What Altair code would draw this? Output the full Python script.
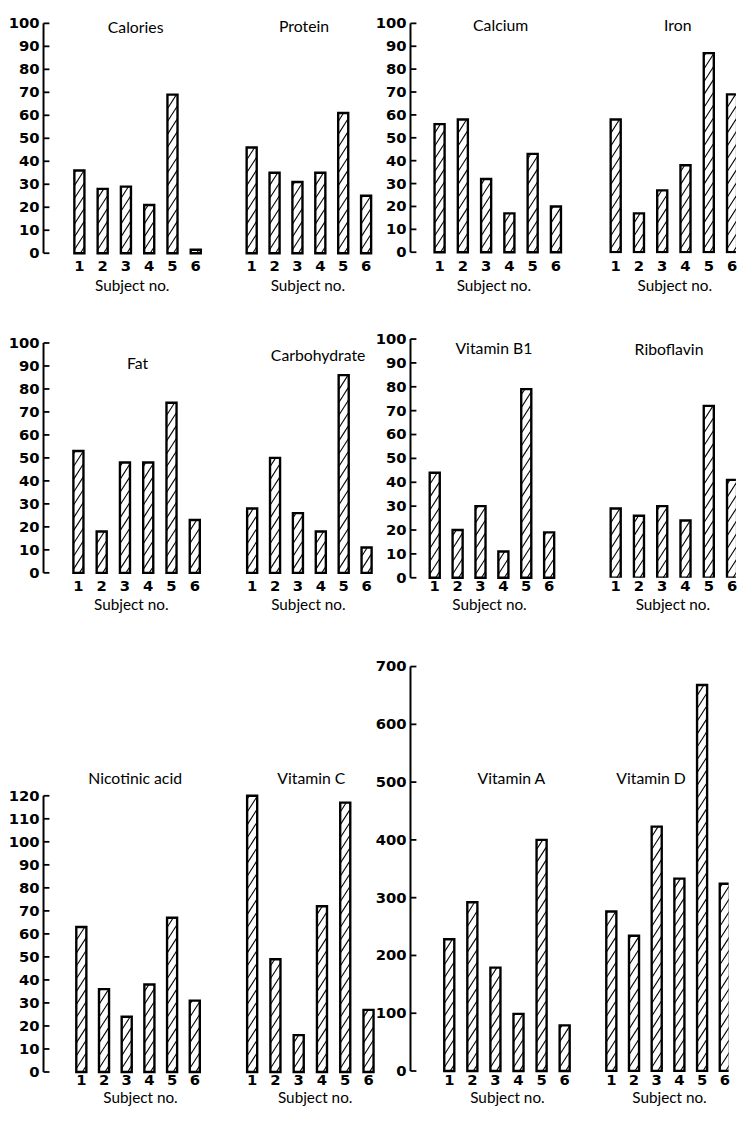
import altair as alt
import pandas as pd

# ---------------- data ----------------
subjects = [1, 2, 3, 4, 5, 6]

calories = [36, 28, 29, 21, 69, 1.5]
protein = [46, 35, 31, 35, 61, 25]
calcium = [56, 58, 32, 17, 43, 20]
iron = [58, 17, 27, 38, 87, 69]
fat = [53, 18, 48, 48, 74, 23]
carbohydrate = [28, 50, 26, 18, 86, 11]
vitamin_b1 = [44, 20, 30, 11, 79, 19]
riboflavin = [29, 26, 30, 24, 72, 41]
nicotinic_acid = [63, 36, 24, 38, 67, 31]
vitamin_c = [120, 49, 16, 72, 117, 27]
vitamin_a = [228, 292, 179, 99, 400, 79]
vitamin_d = [276, 234, 423, 333, 668, 324]

ticks_100 = list(range(0, 101, 10))
ticks_120 = list(range(0, 121, 10))
ticks_700 = list(range(0, 701, 100))

x_title = "Subject no."

# ---------------- styling / layout ----------------
NUM_FONT = "DejaVu Sans"
TXT_FONT = "Lato"
INK = "#000000"
BAR_HALF_PX = 5.1
HATCH_GAP_PX = 13.0
HATCH_RISE_PX = 16.0

# slight horizontal squeeze so that the whole figure stays inside the page
X0 = 43.0
SX = (734.0 - X0) / (746.0 - X0)


def hx(x):
    return X0 + (x - X0) * SX


def make_panel(name, values, p, row, half, yaxis_on, clip=False):
    T, B = row["T"], row["B"]
    V, Z, M, ticks = half["V"], half["Z"], half["M"], half["ticks"]
    ppu = (Z - V) / M
    ydom = [-(B - Z) / ppu, M + (V - T) / ppu]
    L, R, C1 = hx(p["L"]), hx(p["R"]), hx(p["C1"])
    step = p["step"] * SX
    xlo = 1 - (C1 - L) / step
    xhi = xlo + (R - L) / step
    hw = BAR_HALF_PX / step
    W = R - L
    H = B - T

    xscale = alt.Scale(domain=[xlo, xhi], nice=False, zero=False)
    yscale = alt.Scale(domain=ydom, nice=False, zero=False)

    bars = pd.DataFrame({"subject": subjects, "value": values})
    bars["xl"] = bars["subject"] - hw
    bars["xr"] = bars["subject"] + hw
    bars["base"] = 0.0

    sp = HATCH_GAP_PX / ppu
    rise = HATCH_RISE_PX / ppu
    hrows = []
    for s, v in zip(subjects, values):
        y0 = -rise + sp * 0.5
        while y0 < v:
            t0 = max(0.0, -y0 / rise)
            t1 = min(1.0, (v - y0) / rise)
            if t1 > t0:
                hrows.append(dict(xa=s - hw + t0 * 2 * hw, ya=y0 + t0 * rise,
                                  xb=s - hw + t1 * 2 * hw, yb=y0 + t1 * rise))
            y0 += sp
    hatch_df = pd.DataFrame(hrows)

    bar_layer = alt.Chart(bars).mark_rect(
        fill="white", stroke=INK, strokeWidth=2.4, clip=clip
    ).encode(
        x=alt.X("xl:Q", scale=xscale, axis=None),
        x2="xr:Q",
        y=alt.Y("value:Q", scale=yscale, axis=None),
        y2="base:Q",
    )
    hatch_layer = alt.Chart(hatch_df).mark_rule(
        stroke=INK, strokeWidth=1.1, clip=clip
    ).encode(
        x=alt.X("xa:Q", scale=xscale, axis=None),
        x2="xb:Q",
        y=alt.Y("ya:Q", scale=yscale, axis=None),
        y2="yb:Q",
    )
    title_layer = alt.Chart(pd.DataFrame({"label": [name]})).mark_text(
        font=TXT_FONT, fontSize=16, align="center", baseline="middle", color=INK
    ).encode(
        x=alt.value(hx(p["tx"]) - L),
        y=alt.value(p["ty"] - T),
        text="label:N",
    )
    xlab_layer = alt.Chart(pd.DataFrame({"s": subjects})).mark_text(
        font=NUM_FONT, fontSize=15, fontWeight="bold", align="center",
        baseline="alphabetic", color=INK
    ).encode(
        x=alt.X("s:Q", scale=xscale, axis=None),
        y=alt.value(row["lb"] - T),
        text=alt.Text("s:Q", format="d"),
    )
    xtitle_layer = alt.Chart(pd.DataFrame({"label": [x_title]})).mark_text(
        font=TXT_FONT, fontSize=15.5, align="center", baseline="alphabetic", color=INK
    ).encode(
        x=alt.value(hx(p["sx"]) - L),
        y=alt.value(row["sb"] - T),
        text="label:N",
    )
    layers = [bar_layer, hatch_layer, title_layer, xlab_layer, xtitle_layer]
    if yaxis_on:
        axis_line = alt.Chart(pd.DataFrame({"lo": [0], "hi": [M]})).mark_rule(
            stroke=INK, strokeWidth=2
        ).encode(
            x=alt.value(0),
            y=alt.Y("lo:Q", scale=yscale, axis=None),
            y2="hi:Q",
        )
        tick_df = pd.DataFrame({"t": ticks})
        tick_marks = alt.Chart(tick_df).mark_rule(
            stroke=INK, strokeWidth=1.8
        ).encode(
            x=alt.value(0),
            x2=alt.value(6),
            y=alt.Y("t:Q", scale=yscale, axis=None),
        )
        tick_labels = alt.Chart(tick_df).mark_text(
            font=NUM_FONT, fontSize=15, fontWeight="bold", align="right",
            baseline="middle", color=INK
        ).encode(
            x=alt.value(-4),
            y=alt.Y("t:Q", scale=yscale, axis=None),
            text=alt.Text("t:Q", format="d"),
        )
        layers = [axis_line, tick_marks, tick_labels] + layers
    return alt.layer(*layers).properties(width=W, height=H)


ROW_GAP = 81

# rows: plot box top/bottom, x-label baseline, "Subject no." baseline (page px)
row1 = dict(T=11, B=248, lb=266, sb=286)
row2 = dict(T=248 + ROW_GAP, B=577, lb=590.5, sb=610)
row3 = dict(T=577 + ROW_GAP, B=1078, lb=1091, sb=1109)

half_r1L = dict(V=15, Z=248, M=100, ticks=ticks_100)
half_r1R = dict(V=15, Z=247, M=100, ticks=ticks_100)
half_r2L = dict(V=339, Z=572, M=100, ticks=ticks_100)
half_r2R = dict(V=335, Z=577, M=100, ticks=ticks_100)
half_r3L = dict(V=798, Z=1078, M=120, ticks=ticks_120)
half_r3R = dict(V=667, Z=1077, M=700, ticks=ticks_700)

panels = [
    make_panel("Calories", calories, dict(L=43, R=228.5, C1=80, step=24, tx=138, ty=20, sx=134.5), row1, half_r1L, True),
    make_panel("Protein", protein, dict(L=228.5, R=415, C1=257, step=23.6, tx=311, ty=19, sx=315), row1, half_r1L, False),
    make_panel("Calcium", calcium, dict(L=415, R=593.5, C1=445, step=24, tx=508, ty=18, sx=501), row1, half_r1R, True),
    make_panel("Iron", iron, dict(L=593.5, R=746, C1=622, step=24.0, tx=686, ty=18, sx=683), row1, half_r1R, False, clip=True),
    make_panel("Fat", fat, dict(L=43, R=228, C1=79, step=24, tx=140, ty=360, sx=133.5), row2, half_r2L, True),
    make_panel("Carbohydrate", carbohydrate, dict(L=228, R=420, C1=257, step=23.6, tx=325, ty=352, sx=315), row2, half_r2L, False),
    make_panel("Vitamin B1", vitamin_b1, dict(L=420, R=593.5, C1=445, step=23.6, tx=506, ty=345, sx=501.5), row2, half_r2R, True),
    make_panel("Riboflavin", riboflavin, dict(L=593.5, R=746, C1=622, step=24.0, tx=677, ty=346, sx=681), row2, half_r2R, False, clip=True),
    make_panel("Nicotinic acid", nicotinic_acid, dict(L=43, R=228, C1=82, step=23.4, tx=137.5, ty=781, sx=143), row3, half_r3L, True),
    make_panel("Vitamin C", vitamin_c, dict(L=228, R=418, C1=257, step=24, tx=318, ty=781, sx=322), row3, half_r3L, False),
    make_panel("Vitamin A", vitamin_a, dict(L=418, R=601, C1=458, step=23.8, tx=522, ty=781, sx=518), row3, half_r3R, True),
    make_panel("Vitamin D", vitamin_d, dict(L=601, R=746, C1=625, step=23.4, tx=666, ty=781, sx=685), row3, half_r3R, False, clip=True),
]

chart = alt.concat(
    *panels, columns=4, spacing={"row": ROW_GAP, "column": 0}, bounds="flush", align="none"
).properties(padding=0, background="white").configure_view(strokeWidth=0)

chart.save("out.html", embed_options={"renderer": "svg", "actions": False})
